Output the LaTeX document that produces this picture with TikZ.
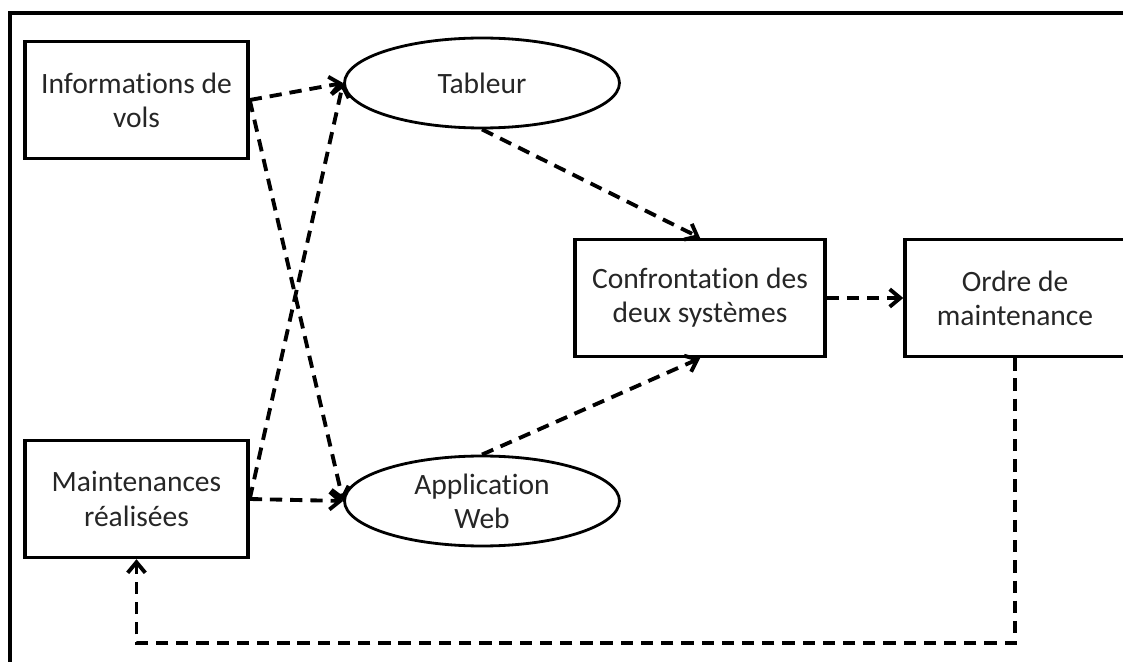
\documentclass[tikz,border=0pt]{standalone}
\usepackage{fontspec}
\setmainfont{Carlito}[Ligatures={NoCommon}]
\usetikzlibrary{positioning, arrows.meta, shapes.geometric}

\begin{document}
\begin{tikzpicture}[
    x=0.02cm, y=-0.02cm,
    box/.style={draw, line width=2pt, minimum width=4.46cm, minimum height=2.34cm, align=center, text=black!85, font=\fontsize{16.8}{19.5}\selectfont},
    oval/.style={draw, ellipse, line width=1.6pt, minimum width=5.5cm, minimum height=1.8cm, inner sep=0pt, align=center, text=black!85, font=\fontsize{16.8}{19.5}\selectfont},
    flow/.style={-{Straight Barb[length=6pt, width=10pt]}, line width=2.2pt, dash pattern=on 7pt off 4.5pt}
]
    \useasboundingbox (0,0) rectangle (1123,662);

    % Frame
    \draw[line width=2pt] (10,700) -- (10,13) -- (1160,13);

    % Sources
    \node[box] (info) at (136.5,100) {Informations de\\vols};
    \node[box] (maint) at (136.5,499) {Maintenances\\réalisées};

    % Systems
    \node[oval] (tableur) at (482,83) {Tableur};
    \node[oval] (appweb) at (482,501) {Application\\Web};

    % Comparison and order
    \node[box, minimum width=5cm] (confront) at (700,298) {Confrontation des\\deux systèmes};
    \node[box, minimum width=4.4cm] (ordre) at (1015,298) {Ordre de\\maintenance};

    % Flows
    \draw[flow] (info.east) -- (tableur.west);
    \draw[flow] (info.east) -- (appweb.west);
    \draw[flow] (maint.east) -- (tableur.west);
    \draw[flow] (maint.east) -- (appweb.west);
    \draw[flow] (tableur.south) -- (confront.north);
    \draw[flow] (appweb.north) -- (confront.south);
    \draw[flow] (confront.east) -- (ordre.west);

    % Feedback loop
    \coordinate (back) at (1015,643);
    \draw[flow] (ordre.south) -- (back) -| (maint.south);

\end{tikzpicture}
\end{document}
